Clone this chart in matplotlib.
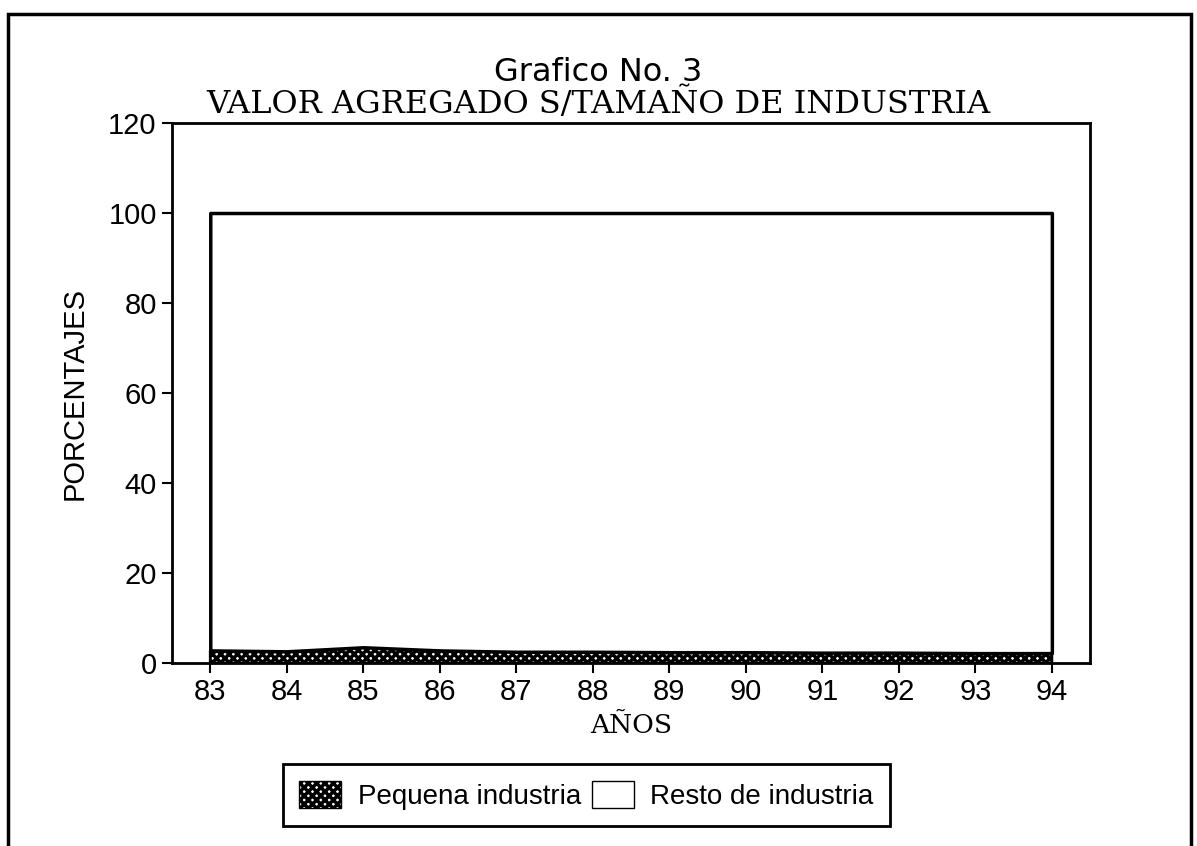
# stacked area chart - valor agregado por tamano de industria

import matplotlib.pyplot as plt
from matplotlib.patches import Rectangle, Patch

years = [83, 84, 85, 86, 87, 88, 89, 90, 91, 92, 93, 94]
# percent share of value added
pequena = [2.8, 2.6, 3.5, 2.8, 2.5, 2.5, 2.4, 2.4, 2.3, 2.3, 2.2, 2.2]
resto = [100 - p for p in pequena]
yticks = [0, 20, 40, 60, 80, 100, 120]

sans = 'Liberation Sans'
serif = 'DejaVu Serif'
plt.rcParams['hatch.linewidth'] = 2.5

fig = plt.figure(figsize=(11.97, 8.46), dpi=100)
ax = fig.add_axes([0.1437, 0.2163, 0.767, 0.6383])

# stacked areas
total = [p + r for p, r in zip(pequena, resto)]
ax.fill_between(years, 0, pequena, facecolor='white', edgecolor='black',
                hatch='xxxx', linewidth=2)
ax.fill_between(years, pequena, total, facecolor='white', edgecolor='black',
                linewidth=2.5)

ax.set_xlim(82.5, 94.5)
ax.set_ylim(0, 120)
ax.set_xticks(years)
ax.set_xticklabels([str(y) for y in years], fontsize=21, family=sans)
ax.set_yticks(yticks)
ax.set_yticklabels([str(v) for v in yticks], fontsize=21, family=sans)
ax.tick_params(direction='out', length=7, width=1.5, pad=4)
for s in ax.spines.values():
    s.set_linewidth(2)

ax.set_ylabel('PORCENTAJES', fontsize=21, family=sans, labelpad=14)
ax.set_xlabel('AÑOS', fontsize=19, family=serif, labelpad=5)

fig.text(0.5, 0.904, 'Grafico No. 3', ha='center', fontsize=23, family='DejaVu Sans')
fig.text(0.5, 0.867, 'VALOR AGREGADO S/TAMAÑO DE INDUSTRIA', ha='center',
         fontsize=23, family=serif)

# legend
handles = [Patch(facecolor='white', edgecolor='black', hatch='xxxx', label='Pequena industria'),
           Patch(facecolor='white', edgecolor='black', label='Resto de industria')]
leg = fig.legend(handles=handles, loc='center', bbox_to_anchor=(0.49, 0.06),
                 ncol=2, fancybox=False, edgecolor='black', framealpha=1,
                 prop={'family': sans, 'size': 20}, handlelength=1.5,
                 handleheight=1.1, columnspacing=0.4, handletextpad=0.6,
                 borderpad=0.6, borderaxespad=0)
leg.get_frame().set_linewidth(2)

# outer frame
fig.patches.append(Rectangle((0.007, -0.01), 0.988, 0.993, transform=fig.transFigure,
                             fill=False, edgecolor='black', linewidth=2.5))

fig.savefig('out.png', dpi=100)
